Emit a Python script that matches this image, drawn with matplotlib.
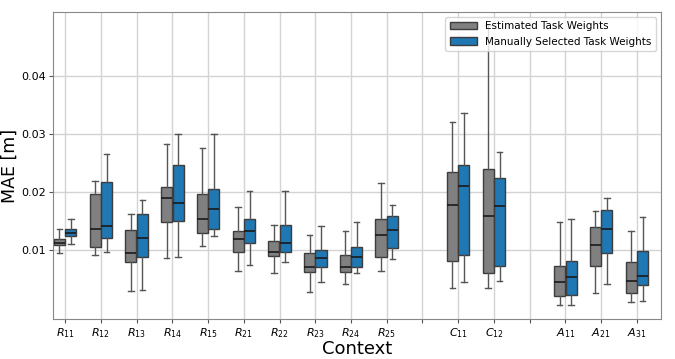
import matplotlib.pyplot as plt
from matplotlib.patches import Patch

# positions of contexts on the x axis (gaps at 10 and 13)
labels = ['$R_{11}$', '$R_{12}$', '$R_{13}$', '$R_{14}$', '$R_{15}$',
          '$R_{21}$', '$R_{22}$', '$R_{23}$', '$R_{24}$', '$R_{25}$',
          '$C_{11}$', '$C_{12}$', '$A_{11}$', '$A_{21}$', '$A_{31}$']
xpos = [0, 1, 2, 3, 4, 5, 6, 7, 8, 9, 11, 12, 14, 15, 16]

# box stats: whislo, q1, med, q3, whishi
estimated = [
    [0.00948, 0.01086, 0.01132, 0.01201, 0.01362],
    [0.00914, 0.01063, 0.01374, 0.01971, 0.02201],
    [0.00293, 0.00799, 0.00948, 0.01345, 0.01621],
    [0.00868, 0.01483, 0.01897, 0.02086, 0.02833],
    [0.01069, 0.01293, 0.01534, 0.01971, 0.02759],
    [0.00638, 0.00971, 0.01190, 0.01328, 0.01741],
    [0.00603, 0.00897, 0.00966, 0.01155, 0.01443],
    [0.00287, 0.00621, 0.00718, 0.00948, 0.01259],
    [0.00414, 0.00621, 0.00713, 0.00920, 0.01328],
    [0.00638, 0.00885, 0.01259, 0.01540, 0.02161],
    [0.00345, 0.00816, 0.01776, 0.02351, 0.03218],
    [0.00345, 0.00615, 0.01586, 0.02408, 0.04880],
    [0.00057, 0.00207, 0.00448, 0.00730, 0.01483],
    [0.00259, 0.00730, 0.01086, 0.01397, 0.01672],
    [0.00109, 0.00270, 0.00466, 0.00799, 0.01333],
]
manual = [
    [0.01103, 0.01247, 0.01293, 0.01368, 0.01540],
    [0.00966, 0.01218, 0.01414, 0.02178, 0.02667],
    [0.00310, 0.00885, 0.01207, 0.01621, 0.01868],
    [0.00885, 0.01500, 0.01810, 0.02477, 0.03000],
    [0.01241, 0.01374, 0.01707, 0.02052, 0.03000],
    [0.00753, 0.01121, 0.01333, 0.01540, 0.02017],
    [0.00793, 0.00977, 0.01121, 0.01437, 0.02029],
    [0.00448, 0.00713, 0.00862, 0.01000, 0.01420],
    [0.00603, 0.00713, 0.00885, 0.01057, 0.01483],
    [0.00851, 0.01046, 0.01356, 0.01586, 0.01776],
    [0.00454, 0.00920, 0.02103, 0.02471, 0.03374],
    [0.00477, 0.00736, 0.01759, 0.02241, 0.02690],
    [0.00057, 0.00224, 0.00534, 0.00810, 0.01546],
    [0.00420, 0.00954, 0.01368, 0.01695, 0.01908],
    [0.00126, 0.00402, 0.00557, 0.00983, 0.01569],
]

gray = '#808080'
blue = '#1f77b4'
edge = '#3d3d3d'


def to_stats(rows):
    return [dict(whislo=r[0], q1=r[1], med=r[2], q3=r[3], whishi=r[4]) for r in rows]


fig = plt.figure(figsize=(6.75, 3.59), dpi=100)
ax = fig.add_axes([0.0785, 0.1114, 0.9005, 0.8552])

for stats, off, col in [(estimated, -0.16, gray), (manual, 0.16, blue)]:
    ax.bxp(to_stats(stats), positions=[p + off for p in xpos], widths=0.31,
           showfliers=False, patch_artist=True, manage_ticks=False,
           boxprops=dict(facecolor=col, edgecolor=edge, linewidth=1),
           medianprops=dict(color='#1a1a1a', linewidth=1.2),
           whiskerprops=dict(color='#555555', linewidth=1),
           capprops=dict(color='#555555', linewidth=1))

ticks = list(range(17))
ticklabels = []
for t in ticks:
    ticklabels.append(labels[xpos.index(t)] if t in xpos else '')
ax.set_xticks(ticks)
ax.set_xticklabels(ticklabels, fontsize=8)
ax.set_yticks([0.01, 0.02, 0.03, 0.04])
ax.set_yticklabels(['0.01', '0.02', '0.03', '0.04'], fontsize=8)
ax.set_xlim(-0.34, 16.67)
ax.set_ylim(-0.00184, 0.0511)
ax.grid(True, color='#d3d3d3', linewidth=1)
ax.set_axisbelow(True)
for s in ax.spines.values():
    s.set_color('#888888')
ax.tick_params(colors='#555555', labelcolor='black', length=3, pad=2)

ax.set_xlabel('Context', fontsize=13, labelpad=0)
ax.set_ylabel('MAE [m]', fontsize=12.5, labelpad=2)

handles = [Patch(facecolor=gray, edgecolor=edge, label='Estimated Task Weights'),
           Patch(facecolor=blue, edgecolor=edge, label='Manually Selected Task Weights')]
ax.legend(handles=handles, loc='upper right', fontsize=7.5, framealpha=0.8,
          handlelength=2.6, borderpad=0.4)

fig.savefig('out.png', dpi=100)
